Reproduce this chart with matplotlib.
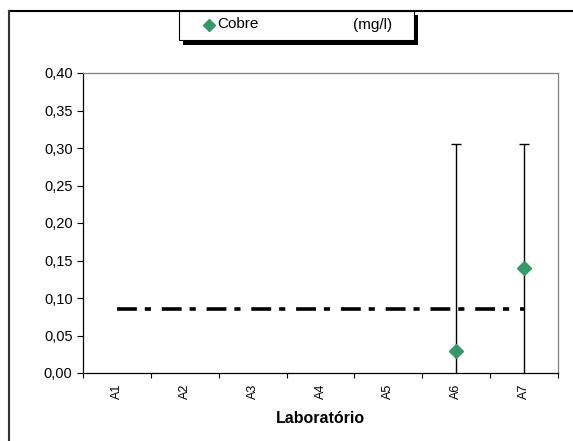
import matplotlib
matplotlib.use("Agg")
import matplotlib.pyplot as plt
from matplotlib.lines import Line2D
from matplotlib.patches import Rectangle

plt.rcParams['font.family'] = ['Liberation Sans', 'DejaVu Sans']

labs = ["A1", "A2", "A3", "A4", "A5", "A6", "A7"]
cobre = [None, None, None, None, None, 0.03, 0.14]
err = [None, None, None, None, None, 0.275, 0.165]
ref_value = 0.085
yticks = [0.00, 0.05, 0.10, 0.15, 0.20, 0.25, 0.30, 0.35, 0.40]
ytick_labels = ["0,00", "0,05", "0,10", "0,15", "0,20", "0,25", "0,30", "0,35", "0,40"]
legend_label = "Cobre"
unit_label = "(mg/l)"
xlabel = "Laboratório"

W, H = 573, 441
fig = plt.figure(figsize=(W / 100, H / 100), dpi=100)
ax = fig.add_axes([83 / W, 1 - 373 / H, (558 - 83) / W, (373 - 73) / H])

x = list(range(len(labs)))
ax.plot(x, [ref_value] * len(labs), color="black", lw=2.6,
        linestyle=(0, (5.5, 2.2, 1.7, 3.0)), dash_capstyle="butt", zorder=2)

px = [i for i, v in zip(x, cobre) if v is not None]
py = [v for v in cobre if v is not None]
pe = [e for e in err if e is not None]
ax.errorbar(px, py, yerr=pe, fmt="none", ecolor="black", elinewidth=1.0,
            capsize=3.3, capthick=1.0, zorder=3)
ax.plot(px, py, linestyle="none", marker="D", ms=7, color="#339966",
        markeredgecolor="#339966", zorder=4)

ax.set_xlim(-0.5, len(labs) - 0.5)
ax.set_ylim(0, 0.40)
ax.set_yticks(yticks)
ax.set_yticklabels(ytick_labels, fontsize=10.5)
ax.set_xticks(x)
ax.set_xticklabels(labs, rotation=90, fontsize=9)
ax.set_xticks([i - 0.5 for i in range(len(labs) + 1)], minor=True)
ax.tick_params(axis="x", which="major", length=0, pad=8)
ax.tick_params(axis="x", which="minor", length=3.5, direction="out", width=0.8)
ax.tick_params(axis="y", length=4.5, direction="out", width=0.8, pad=3)
ax.set_xlabel(xlabel, fontsize=11.5, fontweight="bold", labelpad=8)

for s in ["left", "bottom"]:
    ax.spines[s].set_color("black")
    ax.spines[s].set_linewidth(0.9)
for s in ["top", "right"]:
    ax.spines[s].set_color("#808080")
    ax.spines[s].set_linewidth(0.9)

# figure border (top and left lines)
fig.add_artist(Line2D([8.5 / W, 1], [1 - 10.5 / H, 1 - 10.5 / H], transform=fig.transFigure,
                      color="black", lw=1.5))
fig.add_artist(Line2D([8.5 / W, 8.5 / W], [1 - 10.5 / H, 0], transform=fig.transFigure,
                      color="#333333", lw=1.5))

# legend box with shadow
lx0, lx1, ly0, ly1 = 179, 414, 11, 40
fig.add_artist(Rectangle(((lx0 + 4) / W, 1 - (ly1 + 4.5) / H), (lx1 - lx0) / W, (ly1 - ly0) / H,
                         transform=fig.transFigure, facecolor="black", edgecolor="black", lw=0))
fig.add_artist(Rectangle((lx0 / W, 1 - ly1 / H), (lx1 - lx0) / W, (ly1 - ly0) / H,
                         transform=fig.transFigure, facecolor="white", edgecolor="black", lw=0.8))
fig.add_artist(Line2D([209 / W], [1 - 24.5 / H], transform=fig.transFigure, marker="D", ms=6,
                      color="#339966", linestyle="none"))
fig.text(217 / W, 1 - 24.5 / H, legend_label, fontsize=11, va="center", ha="left")
fig.text(353 / W, 1 - 24.5 / H, unit_label, fontsize=11, va="center", ha="left")

fig.savefig("out.png", dpi=100)
